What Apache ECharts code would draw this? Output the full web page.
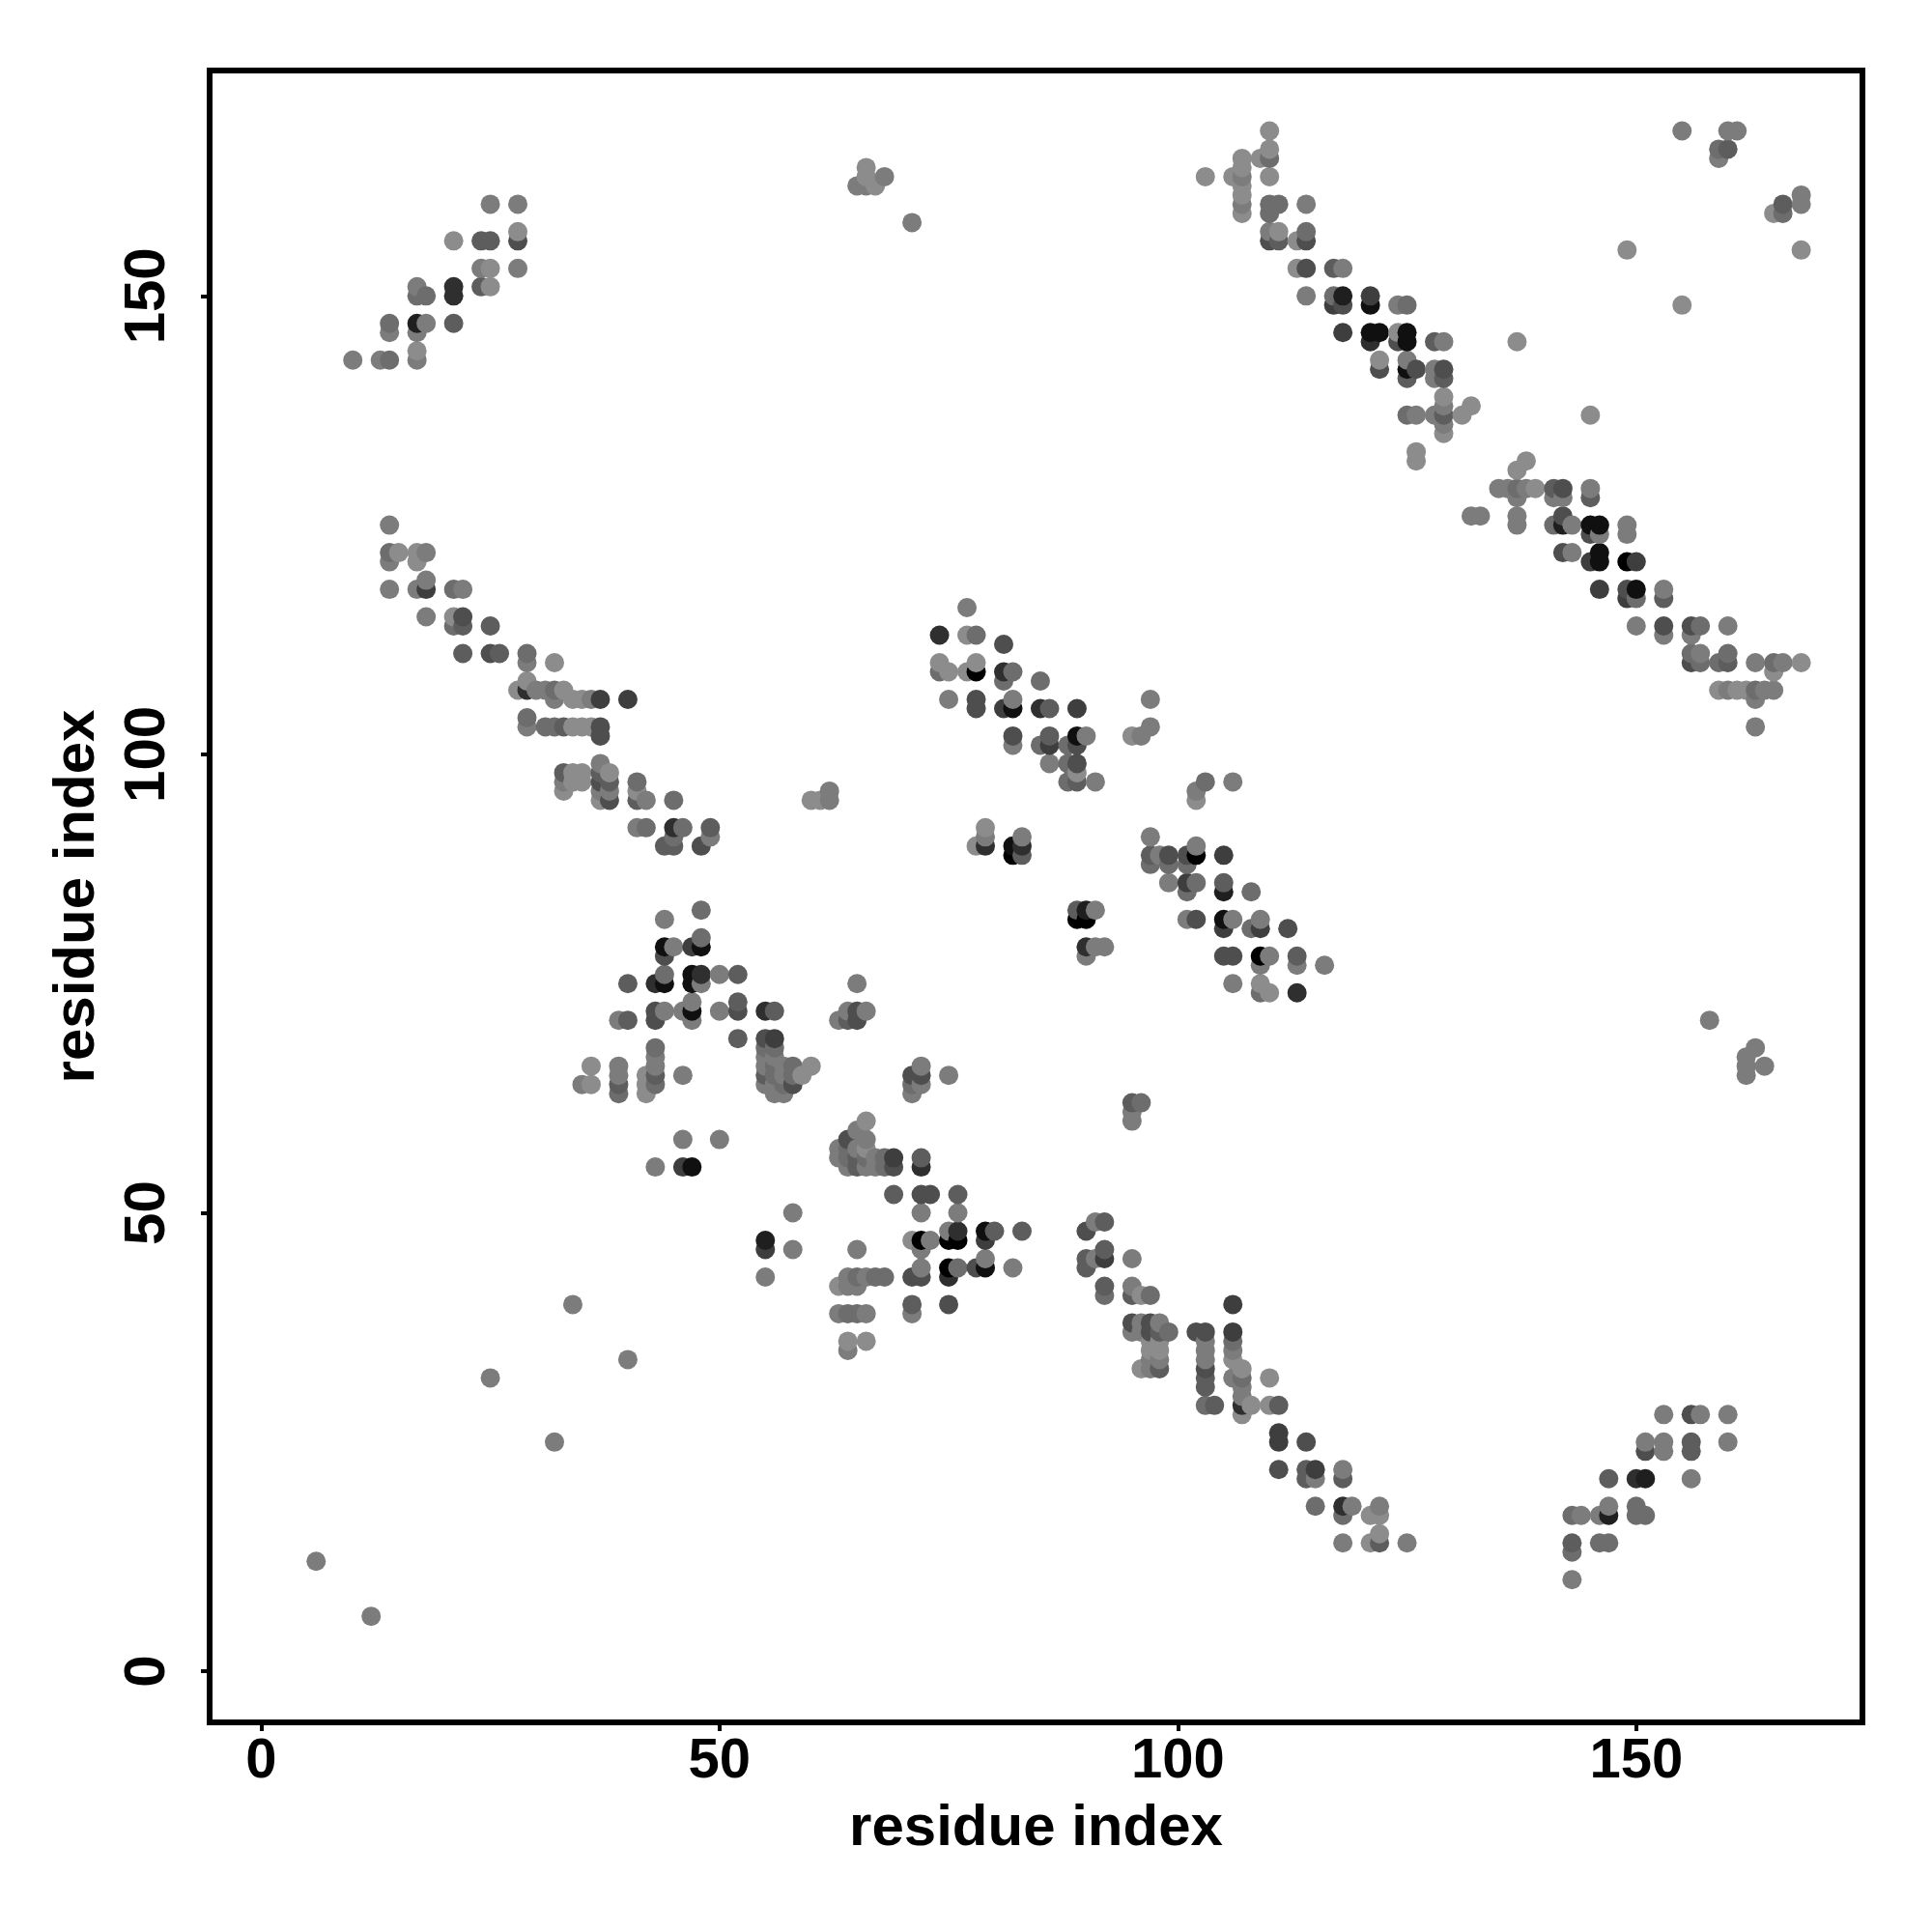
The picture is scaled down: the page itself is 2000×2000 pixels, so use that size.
<!DOCTYPE html>
<html><head><meta charset="utf-8">
<style>html,body{margin:0;padding:0;background:#fff}#c{width:2000px;height:2000px}</style>
<script src="https://cdn.jsdelivr.net/npm/echarts@6/dist/echarts.min.js"></script>
</head><body><div id="c"></div>
<script>
// each contact: [residue x, residue y, shade 0 (black) .. 9 (light grey)]
const xTicks=[0,50,100,150];
const yTicks=[0,50,100,150];
const axisTitle='residue index';
const isolated=[[6,12,8],[12,6,8],[25,32,8],[32,25,8],[34,40,8],[40,34,8],[71,158,8],[158,71,8],[163,68,8],[162,67,8],[162,66,8],[162,65,8],[164,66,8]];
const topLeft=[[10,143,8],[13,143,8],[14,143,7],[17,143,8],[17,144,9],[14,146,8],[14,147,7],[17,146,8],[17,147,2],[18,147,8],[21,147,6],[17,150,7],[17,151,8],[18,150,7],[21,150,3],[21,151,3],[24,151,6],[25,151,9],[24,153,8],[25,153,9],[28,153,8],[21,156,9],[24,156,6],[25,156,6],[28,156,5],[28,157,9],[25,160,8],[28,160,8]];
const leftDiagUpper=[[14,125,8],[14,122,7],[14,121,8],[15,122,9],[17,122,9],[17,121,9],[18,122,8],[14,118,8],[17,118,8],[18,118,4],[18,119,8],[21,118,7],[22,118,8],[18,115,8],[21,115,9],[21,114,7],[22,114,6],[22,115,5],[25,114,6],[22,111,6],[25,111,5],[26,111,6],[29,111,7],[29,110,8],[32,110,9]];
const leftDiagLower=[[28,107,9],[29,108,9],[29,107,3],[30,107,8],[31,107,8],[32,107,7],[33,107,9],[32,106,8],[34,106,9],[35,106,9],[36,106,8],[37,106,4],[40,106,4],[29,104,7],[29,103,8],[31,103,7],[32,103,7],[33,103,6],[34,103,9],[35,103,9],[36,103,9],[37,103,5],[37,102,5],[33,98,6],[33,97,8],[33,96,9],[34,98,9],[34,97,9],[35,98,9],[35,97,9],[37,99,8],[37,98,6],[37,97,5],[37,96,8],[37,95,9],[38,98,9],[38,97,6],[38,96,8],[38,95,5],[41,97,7],[41,96,9],[41,95,6],[42,95,8],[45,95,7],[41,92,8],[42,92,7],[45,92,3],[46,92,7],[45,91,7],[44,90,6],[45,90,6],[49,92,6],[49,91,8],[48,90,5],[60,95,9],[61,95,9],[62,95,8],[62,96,8]];
const topMiddle=[[66,164,9],[66,163,9],[65,162,8],[66,162,8],[67,162,9],[68,163,8]];
const rightDiagUpper=[[103,163,9],[106,163,9],[107,165,9],[107,164,9],[107,163,8],[107,162,9],[107,161,9],[107,160,8],[107,159,9],[109,165,9],[110,168,9],[110,166,9],[110,165,7],[110,163,9],[110,160,7],[110,159,7],[111,160,7],[114,160,8],[110,157,8],[110,156,5],[111,157,9],[111,156,6],[113,156,9],[114,157,7],[114,156,5],[113,153,9],[114,153,5],[117,153,6],[118,153,8],[114,150,8],[117,150,7],[117,149,4],[118,150,2],[118,149,5],[121,150,4],[121,149,1],[124,149,8],[125,149,7],[118,146,4],[121,146,1],[121,145,3],[122,146,1],[124,146,9],[124,145,5],[125,146,1],[125,145,1],[128,145,6],[129,145,8],[137,145,9],[122,143,9],[122,142,5],[125,143,8],[125,142,1],[125,141,6],[126,142,5],[128,142,8],[128,141,8],[129,142,5],[129,141,6],[125,137,7],[126,137,8],[128,137,8],[129,139,9],[129,138,8],[129,137,6],[129,136,8],[129,135,9],[131,137,9],[132,138,9],[145,137,9],[126,133,9],[126,132,9]];
const topRight=[[155,168,8],[160,168,8],[161,168,8],[159,166,7],[160,166,6],[159,165,8],[168,161,8],[168,160,8],[166,160,6],[165,159,9],[166,159,7],[149,155,9],[168,155,9],[155,149,9]];
const rightDiagLower=[[138,132,9],[137,131,9],[135,129,8],[136,129,8],[137,129,7],[138,129,8],[139,129,9],[137,128,8],[141,129,6],[142,129,5],[141,128,8],[142,128,8],[145,129,8],[145,128,6],[132,126,8],[133,126,8],[137,126,8],[137,125,8],[141,125,7],[142,126,5],[142,125,2],[143,125,8],[145,125,1],[145,124,5],[146,125,1],[146,124,8],[149,125,8],[149,124,8],[142,122,5],[143,122,8],[145,121,4],[146,122,1],[146,121,1],[149,121,0],[150,121,4],[146,118,4],[149,118,5],[149,117,4],[150,118,1],[150,117,7],[153,118,8],[153,117,6],[150,114,8],[153,114,5],[153,113,8],[156,114,5],[157,114,7],[156,113,8],[160,114,8],[156,111,7],[156,110,5],[157,111,8],[157,110,7],[159,110,7],[160,111,7],[160,110,6],[163,110,8],[165,110,7],[166,110,8],[165,109,9],[168,110,9],[159,107,9],[160,107,8],[161,107,9],[162,107,9],[163,107,7],[164,107,8],[165,107,8],[163,106,8],[163,103,8]];
const centerUpper=[[77,116,8],[74,113,3],[77,113,9],[78,113,7],[81,112,5],[74,110,9],[74,109,7],[75,109,9],[77,109,9],[78,110,9],[78,109,0],[81,109,3],[81,108,7],[82,109,7],[85,108,7],[75,106,8],[78,106,5],[78,105,5],[81,105,4],[82,106,8],[82,105,1],[85,105,3],[86,105,6],[89,105,4],[82,102,5],[82,101,8],[85,101,7],[86,102,6],[86,101,4],[88,101,7],[89,102,1],[89,101,5],[90,102,8],[86,99,8],[88,99,7],[89,99,5],[89,98,9],[88,97,7],[89,97,6],[91,97,8],[97,106,8],[97,103,8],[95,102,9],[96,102,8],[103,97,7],[102,96,8],[102,95,9],[106,97,8]];
const centerLower=[[79,92,9],[79,91,8],[79,90,3],[78,90,9],[82,90,1],[82,89,0],[83,91,8],[83,90,3],[83,89,6],[89,83,6],[89,82,0],[90,83,2],[90,82,0],[91,83,8],[90,79,3],[90,78,8],[91,79,8],[92,79,8],[97,91,8],[97,89,6],[97,88,7],[98,89,8],[99,89,5],[99,88,7],[101,89,5],[101,88,7],[102,90,8],[102,89,0],[105,89,4],[99,86,8],[101,86,4],[101,85,7],[102,86,7],[105,86,6],[105,85,2],[108,85,7],[101,82,8],[102,82,5],[105,82,1],[105,81,4],[106,82,8],[108,81,7],[109,82,8],[109,81,4],[112,81,5],[105,78,5],[106,78,5],[109,78,0],[110,78,8],[109,77,8],[113,78,6],[113,77,8],[116,77,8],[106,75,8],[109,75,9],[109,74,7],[110,74,9],[113,74,3]];
const lowerLeftCluster=[[44,82,8],[48,83,7],[44,79,1],[44,78,5],[45,79,8],[47,79,4],[48,79,1],[48,80,7],[40,75,6],[43,75,3],[44,75,1],[44,76,7],[47,76,1],[47,75,1],[48,76,3],[48,75,8],[50,76,8],[52,76,6],[39,71,8],[40,71,6],[43,72,5],[43,71,5],[44,72,8],[46,72,8],[47,73,8],[47,72,1],[47,71,8],[50,72,8],[52,73,6],[52,72,5],[55,72,3],[56,72,6],[52,69,6],[55,69,5],[56,69,4],[55,68,7],[55,67,8],[55,66,8],[55,65,6],[55,64,8],[56,68,7],[56,67,8],[56,66,7],[56,65,7],[56,64,8],[56,63,8],[57,66,8],[57,65,8],[57,64,7],[57,63,8],[58,66,7],[58,65,7],[58,64,5],[59,65,9],[60,66,9],[65,75,8],[63,71,8],[64,72,8],[64,71,6],[65,72,5],[65,71,5],[66,72,8],[36,66,9],[35,64,8],[36,64,9],[39,66,8],[39,65,8],[39,64,6],[39,63,7],[43,68,7],[43,67,8],[43,66,8],[43,65,6],[43,64,7],[42,65,9],[42,64,9],[42,63,9],[46,65,8],[46,58,8],[50,58,8],[43,55,8],[46,55,4],[47,55,1]];
const middleCluster=[[72,66,8],[72,65,5],[72,64,8],[71,65,5],[71,64,7],[71,63,8],[75,65,8],[66,60,9],[65,59,8],[64,58,5],[66,58,8],[63,57,8],[64,57,7],[65,57,8],[66,57,9],[63,56,8],[64,56,7],[65,56,6],[66,56,7],[67,56,8],[68,56,7],[69,56,4],[64,55,8],[65,55,6],[66,55,8],[67,55,8],[68,55,7],[69,55,5],[72,56,6],[72,55,3],[69,52,6],[72,52,5],[73,52,5],[76,52,6],[72,50,8],[76,50,8],[58,50,8],[95,62,6],[96,62,7],[95,61,8],[95,60,8]];
const lowerMiddle=[[55,47,2],[55,46,4],[58,46,8],[65,46,8],[55,43,8],[64,43,8],[65,43,7],[66,43,8],[67,43,7],[68,43,7],[63,42,9],[64,42,8],[65,42,8],[63,39,8],[64,39,7],[65,39,7],[66,39,8],[64,36,9],[64,35,8],[66,36,9],[71,47,9],[72,47,0],[72,46,8],[73,47,8],[75,48,8],[75,47,0],[76,48,3],[76,47,0],[79,48,1],[79,47,4],[80,48,6],[83,48,6],[71,43,5],[72,43,5],[72,44,8],[75,44,0],[75,43,3],[76,44,7],[78,44,5],[79,44,1],[79,45,8],[82,44,8],[71,40,6],[71,39,8],[75,40,5]];
const lowerDiag=[[90,48,5],[91,49,8],[92,49,6],[90,45,6],[90,44,6],[91,45,8],[92,46,6],[92,45,4],[95,45,8],[92,42,6],[92,41,7],[95,42,8],[95,41,6],[96,41,9],[97,41,7],[95,38,5],[95,37,8],[96,38,8],[96,37,8],[97,38,5],[97,37,5],[98,38,8],[98,37,6],[99,37,7],[97,36,9],[97,35,9],[97,34,8],[97,33,8],[98,36,9],[98,35,9],[98,34,8],[98,33,6],[96,33,9],[102,37,5],[103,37,5],[103,36,8],[103,35,8],[103,34,8],[103,33,5],[103,32,6],[103,31,6],[103,29,7],[104,29,6],[106,40,4],[106,37,4],[106,36,7],[106,35,8],[106,34,9],[106,32,8],[107,33,9],[107,32,7],[107,31,8],[107,30,8],[107,29,3],[107,28,9],[108,29,9],[110,32,9],[110,29,9],[111,29,6],[111,26,4],[111,25,4],[114,25,5],[111,22,5],[114,22,6],[114,21,6],[115,22,4],[115,21,8],[118,22,8],[118,21,6],[115,18,7],[118,18,3],[118,17,7],[119,18,8],[121,17,9],[122,18,8],[122,17,9],[118,14,8],[121,14,9],[122,15,9],[122,14,6],[125,14,8]];
const bottomRight=[[153,28,8],[156,28,5],[157,28,8],[160,28,8],[151,25,8],[151,24,5],[153,25,8],[153,24,8],[156,25,6],[156,24,6],[160,25,8],[147,21,6],[150,21,3],[151,21,2],[156,21,8],[143,17,7],[144,17,8],[146,17,8],[147,18,8],[147,17,2],[150,18,7],[150,17,7],[151,17,7],[143,14,6],[143,13,7],[146,14,7],[147,14,7],[143,10,8]];

const contacts=[].concat(isolated,topLeft,leftDiagUpper,leftDiagLower,topMiddle,rightDiagUpper,topRight,rightDiagLower,centerUpper,centerLower,lowerLeftCluster,middleCluster,lowerMiddle,lowerDiag,bottomRight)
  .sort((a,b)=>a[0]-b[0]||a[1]-b[1]);
const grey=s=>{const v=Math.round(s*15.5);return 'rgb('+v+','+v+','+v+')';};
const font='"Liberation Sans"';
const chart=echarts.init(document.getElementById('c'),null,{renderer:'canvas'});
const tick={show:true,length:9,inside:false,lineStyle:{color:'#000',width:4}};
chart.setOption({
  animation:false,backgroundColor:'#fff',
  grid:{left:217,top:73,width:1711,height:1710,show:true,borderColor:'#000',borderWidth:6,backgroundColor:'transparent'},
  xAxis:{type:'value',min:-5.62,max:174.68,splitLine:{show:false},axisLine:{show:false,onZero:false},
    axisTick:Object.assign({customValues:xTicks},tick),
    axisLabel:{customValues:xTicks,color:'#000',fontFamily:font,fontWeight:'bold',fontSize:58,margin:12,showMinLabel:true,showMaxLabel:true},
    name:axisTitle,nameLocation:'middle',nameGap:80,nameTextStyle:{color:'#000',fontFamily:font,fontWeight:'bold',fontSize:60}},
  yAxis:{type:'value',min:-5.57,max:174.58,splitLine:{show:false},axisLine:{show:false,onZero:false},
    axisTick:Object.assign({customValues:yTicks},tick),
    axisLabel:{customValues:yTicks,rotate:90,color:'#000',fontFamily:font,fontWeight:'bold',fontSize:60,margin:64,align:'center',verticalAlign:'middle'},
    name:axisTitle,nameLocation:'middle',nameGap:107,nameRotate:90,nameTextStyle:{color:'#000',fontFamily:font,fontWeight:'bold',fontSize:60}},
  series:[{type:'scatter',symbol:'circle',symbolSize:20,large:false,clip:false,
    data:contacts.map(c=>({value:[c[0],c[1]],itemStyle:{color:grey(c[2]),opacity:1}}))}]
});
</script></body></html>
